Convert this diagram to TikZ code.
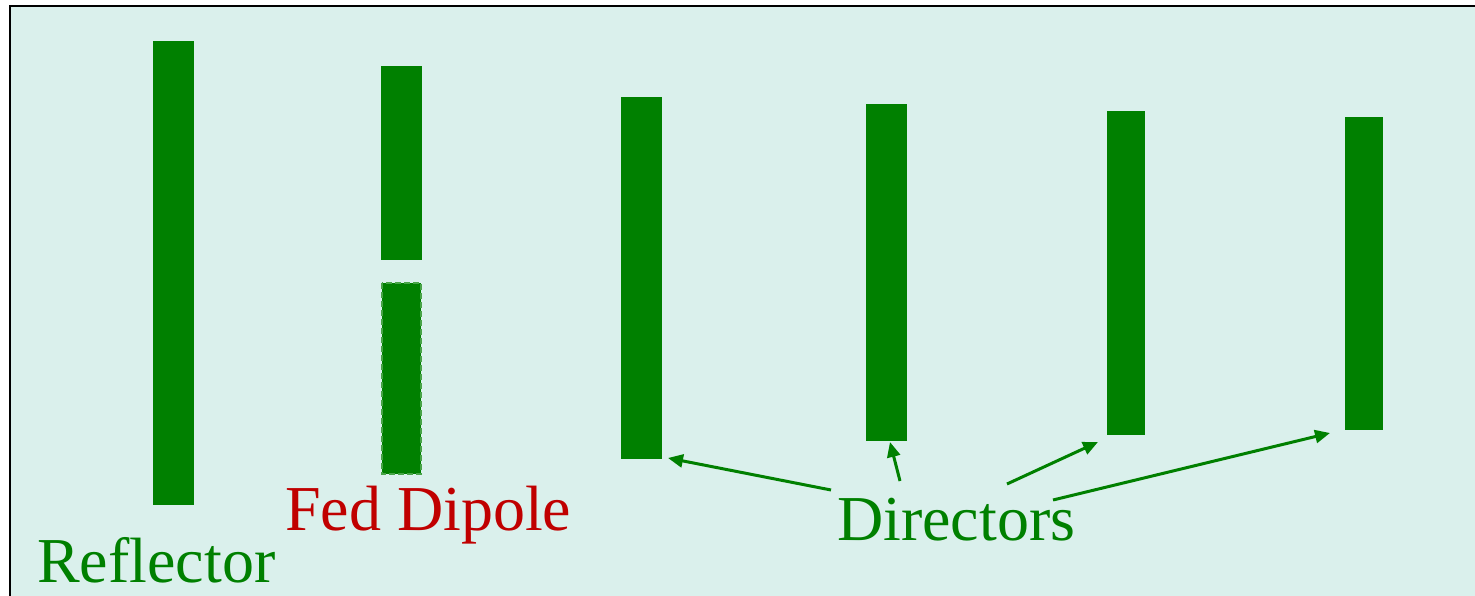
\documentclass[tikz,border=0pt]{standalone}
\usepackage{fontspec}
\setmainfont{Liberation Serif}
\usetikzlibrary{arrows.meta}
\definecolor{bg}{HTML}{DAF0EC}
\definecolor{elgreen}{HTML}{008000}
\definecolor{lightgreen}{HTML}{48A448}
\definecolor{fedred}{HTML}{C00000}
\tikzset{
  element/.style={fill=elgreen, draw=none},
  dashedel/.style={fill=elgreen, draw=lightgreen, line width=2pt, dash pattern=on 6pt off 3pt},
  label/.style={inner sep=0pt, anchor=base west, font=\fontsize{64}{70}\selectfont},
  ptr/.style={draw=elgreen, line width=3pt, -{Triangle[length=15pt,width=13pt]}}
}
\begin{document}
\begin{tikzpicture}[x=1pt,y=-1pt]
\useasboundingbox (0,0) rectangle (1475,596);
\fill[white] (0,0) rectangle (1475,596);
\fill[bg] (10,6) rectangle (1480,600);
\draw[black, line width=2pt] (10,600) -- (10,6) -- (1480,6);
% elements
\path[element] (153,41) rectangle (194,505);
\path[element] (381,66) rectangle (422,260);
\path[dashedel] (382,283) rectangle (421,474);
\path[element] (621,97) rectangle (662,459);
\path[element] (866,104) rectangle (907,441);
\path[element] (1107,111) rectangle (1145,435);
\path[element] (1345,117) rectangle (1383,430);
\coordinate (d1) at (668,458);
\coordinate (d2) at (890,442);
\coordinate (d3) at (1098,442);
\coordinate (d4) at (1330,433);
% labels
\node[label, text=elgreen] (refl) at (37,582) {Reflector};
\node[label, text=fedred] (fed) at (285,530) {Fed Dipole};
\node[label, text=elgreen] (dir) at (837,540) {Directors};
% pointers
\draw[ptr] (831,490) -- (d1);
\draw[ptr] (900,481) -- (d2);
\draw[ptr] (1007,484) -- (d3);
\draw[ptr] (1053,500) -- (d4);
\end{tikzpicture}
\end{document}
